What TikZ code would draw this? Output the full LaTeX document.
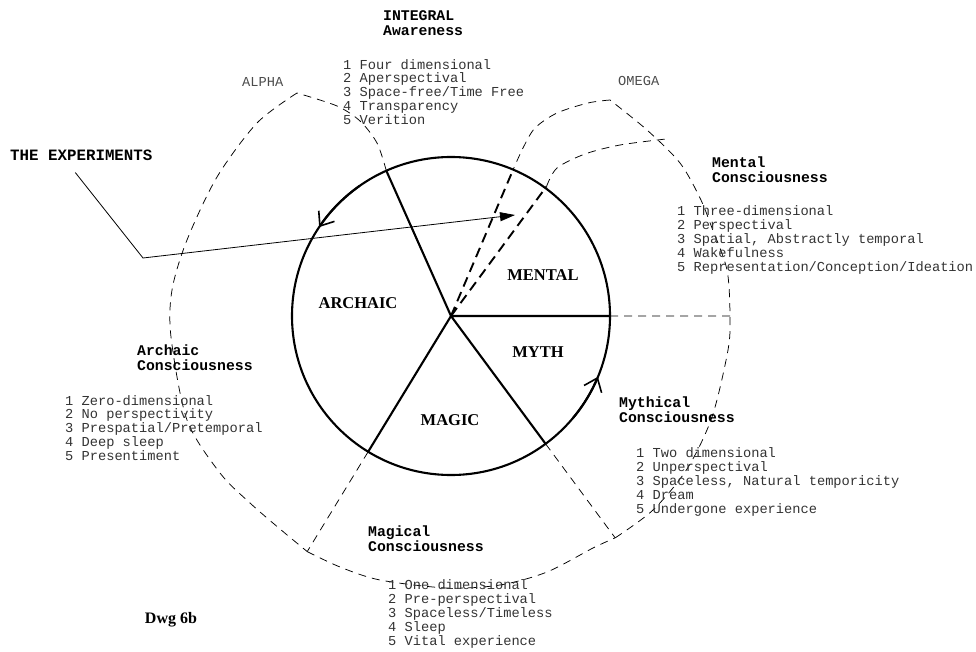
\documentclass[tikz,border=0pt]{standalone}
\usepackage{fontspec}
\setmainfont{Liberation Serif}
\setmonofont{Liberation Mono}
\usetikzlibrary{arrows.meta,calc}

\begin{document}
\begin{tikzpicture}[x={(1pt,0pt)},y={(0pt,-1pt)},line join=round,
    sector/.style={font=\fontsize{16.5}{18}\selectfont\bfseries},
    head/.style={anchor=west,inner sep=0pt,align=left,font=\fontsize{14.8}{15.5}\selectfont\ttfamily\bfseries},
    list/.style={anchor=west,inner sep=0pt,align=left,text=black!80,font=\fontsize{13.7}{13.9}\selectfont\ttfamily},
    greek/.style={anchor=west,inner sep=0pt,text=black!70,font=\fontsize{13.7}{14}\selectfont\ttfamily},
    trail/.style={dash pattern=on 8pt off 6pt,line width=.75pt},
    ray/.style={dash pattern=on 10pt off 6pt,line width=1.9pt},
    wheel/.style={line width=2.1pt},
    barb/.style={-{Straight Barb[length=12pt,width=19pt,line width=1.6pt]}}]
  \useasboundingbox (0,0) rectangle (976,652);
  % wheel, angles measured clockwise since y points down
  \coordinate (c) at (451,316);
  \coordinate (sI) at ($(c)+(-114:159)$);
  \coordinate (sR) at ($(c)+(0:159)$);
  \coordinate (sY) at ($(c)+(53.5:159)$);
  \coordinate (sM) at ($(c)+(121.4:159)$);
  \coordinate (sA) at ($(c)+(-67:159)$);
  \coordinate (sB) at ($(c)+(-53.6:161)$);
  \coordinate (cnrM) at ($(c)+(121.4:276)$);
  \coordinate (cnrY) at ($(c)+(53.5:276)$);
  \coordinate (cnrR) at ($(c)+(0:279)$);
  \coordinate (alpha) at (297,93);
  \coordinate (omega) at (610,100);

  \draw[wheel] (c) circle[radius=159];
  \draw[wheel,barb] ($(c)+(-125:159)$) arc[start angle=-125,end angle=-146,radius=159];
  \draw[wheel,barb] ($(c)+(40:159)$) arc[start angle=40,end angle=22.5,radius=159];
  \draw[wheel] (sI) -- (c) -- (sR) (sY) -- (c) -- (sM);
  \draw[ray] (c) -- (sA) (c) -- (sB);

  % the dashed spiral from alpha to omega
  \draw[trail] plot[smooth] coordinates {(sI) (377,143) (360,121) (337,106) (alpha)};
  \draw[trail] plot[smooth] coordinates {(alpha) (257,123) (217,177) (187,240) (172,290) (171,337) (187,420) (220,473) (250,503) (280,529) (cnrM)};
  \draw[trail] (sM) -- (cnrM) (sY) -- (cnrY) (sR) -- (cnrR);
  \draw[trail] plot[smooth] coordinates {(cnrM) (340,567) (380,580) (447,588) (500,585) (547,572) (593,548) (cnrY)};
  \draw[trail] plot[smooth] coordinates {(cnrY) (653,510) (687,469) (712,417) (728,350) (cnrR) (727,270) (712,228) (700,198) (680,163) (647,130) (omega)};
  \draw[trail] plot[smooth] coordinates {(omega) (588,103) (557,113) (535,128) (523,148) (sA)};
  \draw[trail] plot[smooth] coordinates {(sB) (557,168) (585,154) (620,145) (666,139)};

  \node[sector] (archaic) at (358,303) {ARCHAIC};
  \node[sector] (mental) at (543,275) {MENTAL};
  \node[sector] (myth) at (538,352) {MYTH};
  \node[sector] (magic) at (450,420) {MAGIC};

  \node[greek] (alphaL) at (242,82) {ALPHA};
  \node[greek] (omegaL) at (618,81) {OMEGA};

  \node[head] (intH) at (383,23) {INTEGRAL\\Awareness};
  \node[list] (intL) at (343,92) {1 Four dimensional\\2 Aperspectival\\3 Space-free/Time Free\\4 Transparency\\5 Verition};
  \node[head] (menH) at (712,169.5) {Mental\\Consciousness};
  \node[list] (menL) at (677,240) {1 Three-dimensional\\2 Perspectival\\3 Spatial, Abstractly temporal\\4 Wakefulness\\5 Representation/Conception/Ideation};
  \node[head] (arcH) at (137,357.5) {Archaic\\Consciousness};
  \node[list] (arcL) at (65,428) {1 Zero-dimensional\\2 No perspectivity\\3 Prespatial/Pretemporal\\4 Deep sleep\\5 Presentiment};
  \node[head] (mytH) at (619,409.5) {Mythical\\Consciousness};
  \node[list] (mytL) at (636,482) {1 Two dimensional\\2 Unperspectival\\3 Spaceless, Natural temporicity\\4 Dream\\5 Undergone experience};
  \node[head] (magH) at (368,538.5) {Magical\\Consciousness};
  \node[list] (magL) at (388,614) {1 One dimensional\\2 Pre-perspectival\\3 Spaceless/Timeless\\4 Sleep\\5 Vital experience};

  \node[head,font=\fontsize{15.8}{17}\selectfont\ttfamily\bfseries] (exp) at (10,155) {THE EXPERIMENTS};
  \coordinate (bend) at (143,258);
  \coordinate (hit) at (515,215);
  \draw[line width=.8pt,-{Triangle[length=15pt,width=9pt]}] ([xshift=-6pt,yshift=-12pt]exp.south) -- (bend) -- (hit);

  \node[font=\fontsize{16}{17}\selectfont\bfseries] (dwg) at (171,620) {Dwg 6b};
\end{tikzpicture}
\end{document}
